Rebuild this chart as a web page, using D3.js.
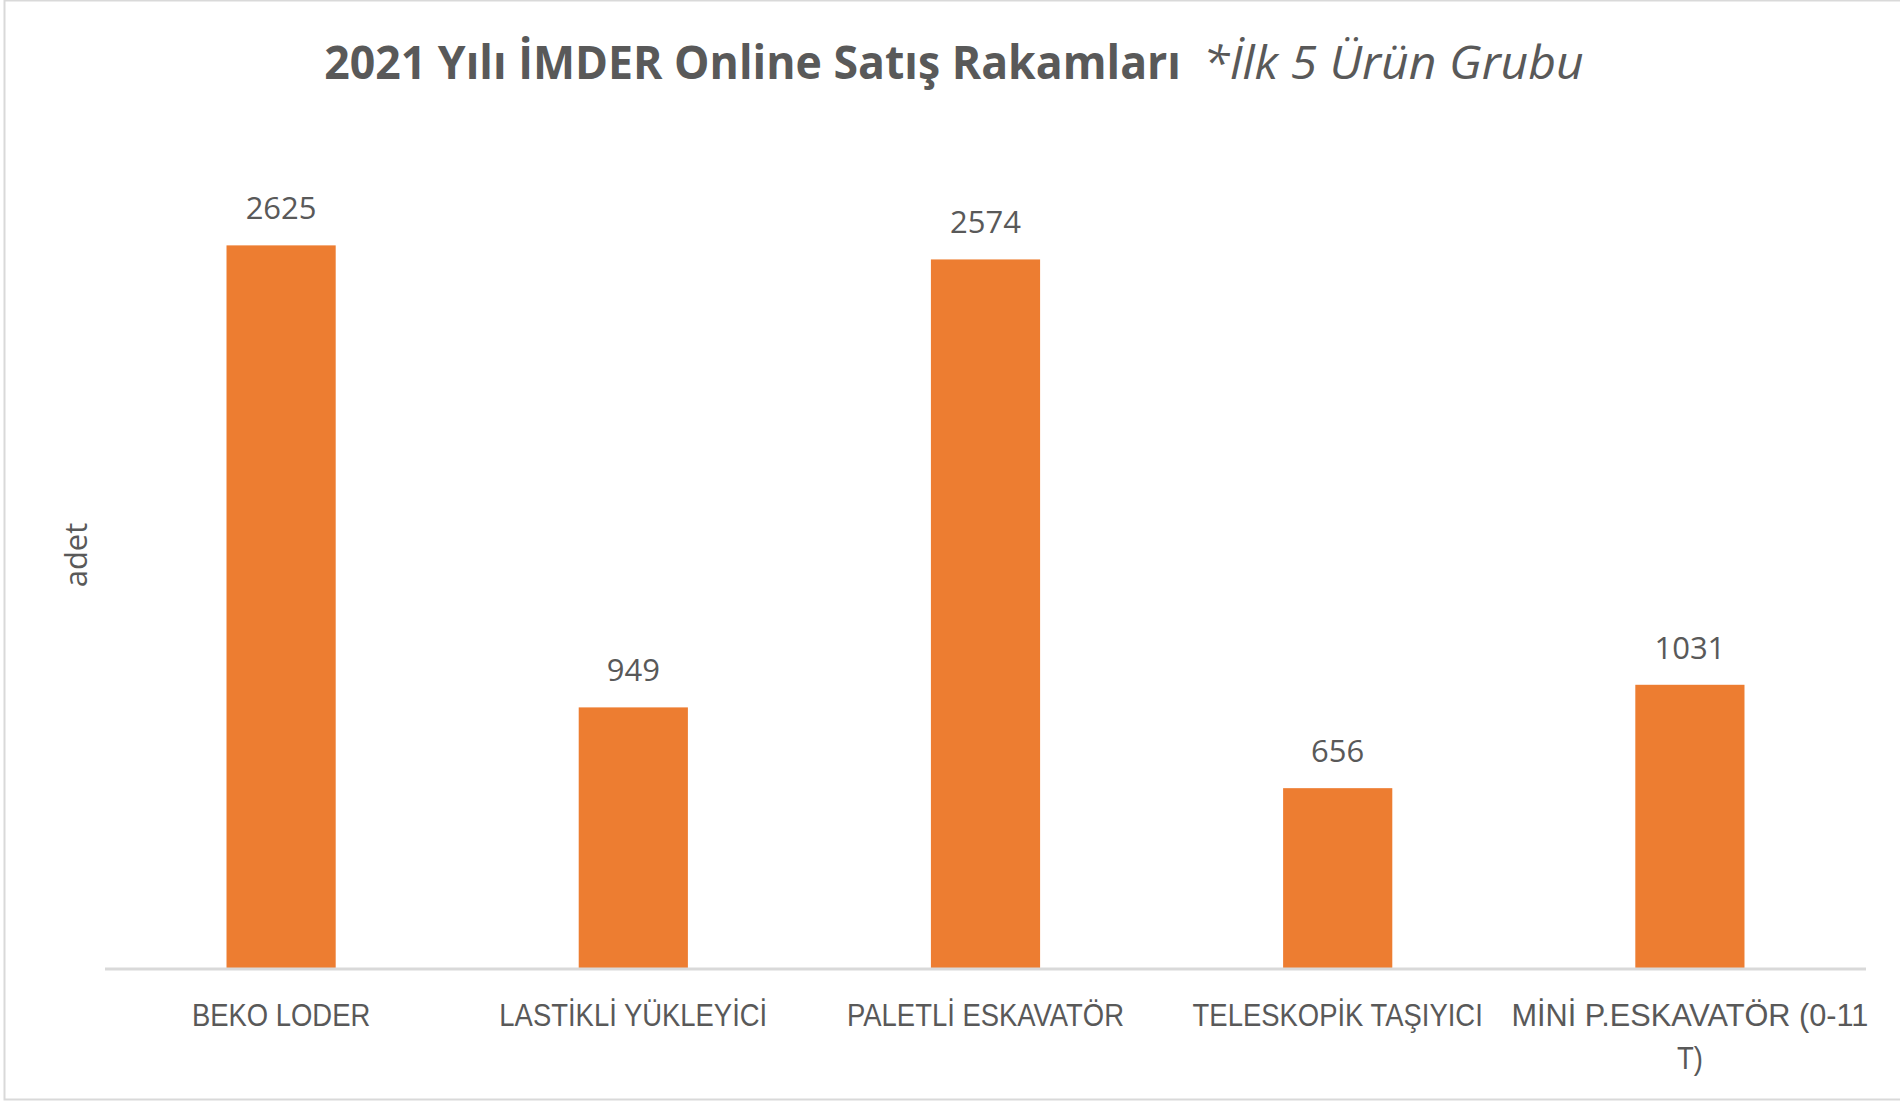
<!doctype html>
<html lang="tr">
  <head>
    <meta charset="utf-8">
    <title>2021 Yılı İMDER Online Satış Rakamları</title>
    <style>
      body { margin: 0; background: #fff; }
      svg { display: block; font-family: "Open Sans", sans-serif; }
    </style>
  </head>
  <body>
    <script src="https://cdn.jsdelivr.net/npm/d3@7"></script>
    <script>

var categories = ["BEKO LODER", "LASTİKLİ YÜKLEYİCİ", "PALETLİ ESKAVATÖR", "TELESKOPİK TAŞIYICI", "MİNİ P.ESKAVATÖR (0-11 T)"];
var values     = [2625, 949, 2574, 656, 1031];
var yMax       = 3000;

var titleMain  = "2021 Yılı İMDER Online Satış Rakamları";
var titleNote  = "*İlk 5 Ürün Grubu";
var yTitle     = "adet";

var W = 1900, H = 1103;
var margin = {top: 142, right: 34, bottom: 134, left: 105},
    width  = W - margin.left - margin.right,
    height = H - margin.top - margin.bottom;

var textColor = "#595959";

var svg = d3.select("body")
    .append("svg")
    .attr("width", W)
    .attr("height", H);

// chart frame
svg.append("rect")
    .attr("x", 4.5).attr("y", 0.5)
    .attr("width", W + 10).attr("height", H - 4)
    .attr("fill", "#fff")
    .attr("stroke", "#d9d9d9")
    .attr("stroke-width", 2);

var chart = svg.append("g")
    .attr("transform", "translate(" + margin.left + "," + margin.top + ")");

var x = d3.scaleBand()
    .domain(categories)
    .range([0, width])
    .paddingInner(0.69)
    .paddingOuter(0.345);

var y = d3.scaleLinear()
    .domain([0, yMax])
    .range([height, 0]);

chart.selectAll(".bar")
    .data(values)
    .enter()
    .append("rect")
    .attr("class", "bar")
    .attr("x", function(d, i){ return x(categories[i]); })
    .attr("y", function(d){ return y(d); })
    .attr("width", x.bandwidth())
    .attr("height", function(d){ return height - y(d); })
    .attr("fill", "#ed7d31");

// data labels
chart.selectAll(".lbl")
    .data(values)
    .enter()
    .append("text")
    .attr("class", "lbl")
    .attr("x", function(d, i){ return x(categories[i]) + x.bandwidth() / 2; })
    .attr("y", function(d){ return y(d) - 26; })
    .attr("text-anchor", "middle")
    .attr("font-size", 31)
    .attr("fill", textColor)
    .text(function(d){ return d; });

// x axis
var xAxis = chart.append("g")
    .attr("transform", "translate(0," + height + ")")
    .call(d3.axisBottom(x).tickSize(0).tickPadding(0));

xAxis.select(".domain")
    .attr("d", "M0,0H" + width)
    .attr("stroke", "#d9d9d9")
    .attr("stroke-width", 3);

xAxis.selectAll(".tick text").remove();

// category labels, wrapped like the original
xAxis.selectAll(".tick")
    .append("text")
    .attr("text-anchor", "middle")
    .attr("font-size", 31)
    .attr("fill", textColor)
    .each(function(d){
      var t = d3.select(this);
      var lines = d.length > 22 ? [d.slice(0, d.lastIndexOf(" ")), d.slice(d.lastIndexOf(" ") + 1)] : [d];
      lines.forEach(function(s, k){
        t.append("tspan")
          .attr("class", "fit")
          .attr("data-c", s.indexOf("(") >= 0 ? 0.99 : 0.885)
          .attr("x", 0)
          .attr("y", 57 + k * 43)
          .text(s);
      });
    });

// y axis title
svg.append("text")
    .attr("transform", "translate(87,555) rotate(-90)")
    .attr("text-anchor", "middle")
    .attr("font-size", 31)
    .attr("fill", textColor)
    .text(yTitle);

// title, two parts
svg.append("text")
    .attr("class", "fit")
    .attr("data-c", 0.97)
    .attr("x", 1181)
    .attr("y", 79)
    .attr("text-anchor", "end")
    .attr("font-size", 46)
    .attr("font-weight", "bold")
    .attr("fill", textColor)
    .text(titleMain);

svg.append("text")
    .attr("class", "fit")
    .attr("data-c", 1.045)
    .attr("x", 1203)
    .attr("y", 79)
    .attr("font-size", 46)
    .attr("font-style", "italic")
    .attr("fill", textColor)
    .text(titleNote);

// narrow the glyphs a bit, the original uses Calibri
d3.selectAll(".fit").each(function(){
  var len = this.getComputedTextLength();
  d3.select(this)
    .attr("textLength", len * +this.getAttribute("data-c"))
    .attr("lengthAdjust", "spacingAndGlyphs");
});

    </script>
  </body>
</html>
